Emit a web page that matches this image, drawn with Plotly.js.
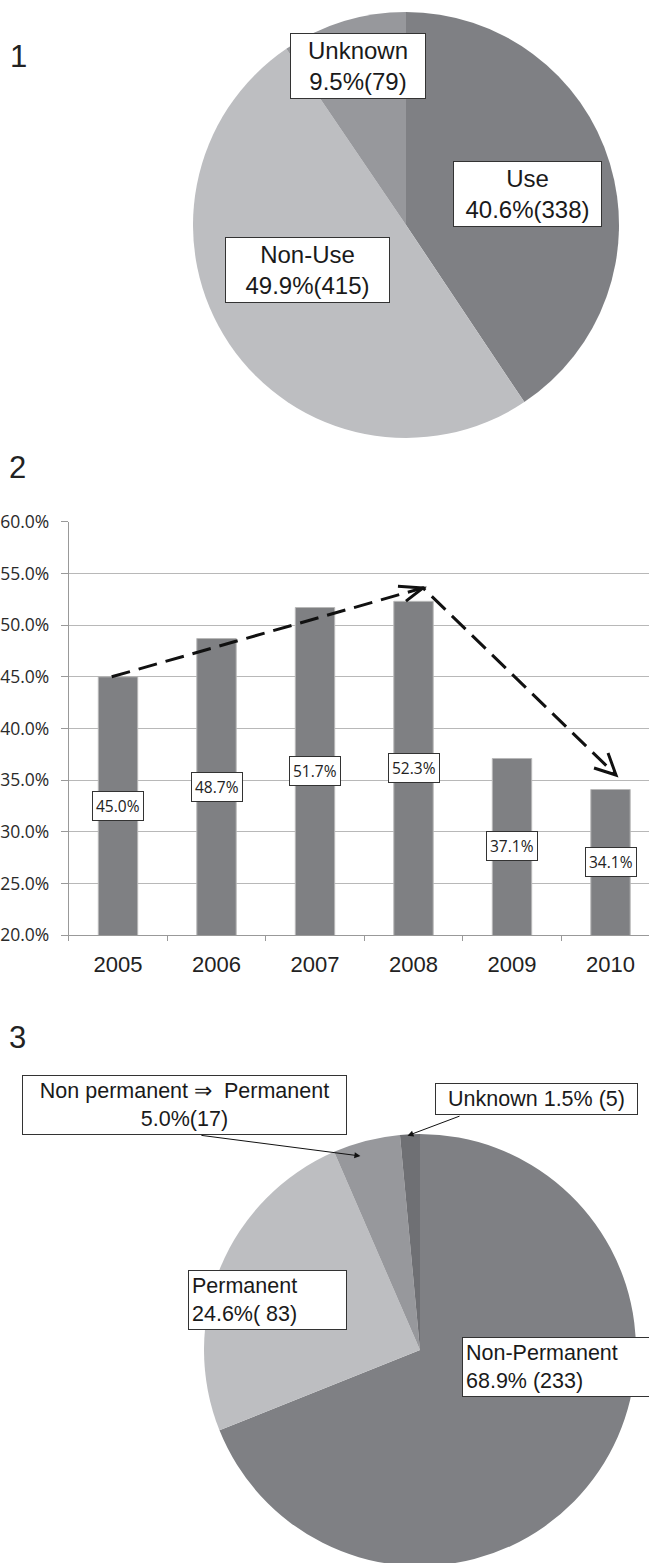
<!DOCTYPE html>
<html>
<head>
<meta charset="utf-8">
<script src="https://cdn.plot.ly/plotly-3.0.1.min.js"></script>
<style>
html,body{margin:0;padding:0;overflow:hidden;background:#fff;}
#chart{width:700px;height:1600px;}
</style>
</head>
<body>
<div id="chart"></div>
<script>
// ---------- data ----------
const pie1Labels = ['Use', 'Non-Use', 'Unknown'];
const pie1Counts = [338, 415, 79];
const pie1Pct = [40.6, 49.9, 9.5];

const years = ['2005', '2006', '2007', '2008', '2009', '2010'];
const barValues = [45.0, 48.7, 51.7, 52.3, 37.1, 34.1];

const pie3Labels = ['Non-Permanent', 'Permanent', 'Non permanent \u21D2 Permanent', 'Unknown'];
const pie3Counts = [233, 83, 17, 5];
const pie3Text = [
  'Non-Permanent<br>68.9% (233)',
  'Permanent<br>24.6%( 83)',
  'Non permanent \u21D2\u00a0\u00a0Permanent<br>5.0%(17)',
  'Unknown 1.5% (5)'
];

// trend arrows drawn over the bar chart (category index, percent)
const trendX = [-0.064, 3.096, 5.056];
const trendY = [45.0, 53.6, 35.5];

// ---------- layout helpers ----------
const W = 700, H = 1600;
const px = x => x / W;
const py = y => 1 - y / H;

const cDark = '#7f8084', cLight = '#bdbec1', cMid = '#97989c', cDarker = '#6f7074';
const labelFont = {family: 'Liberation Sans, Arial, sans-serif', color: '#1a1a1a'};

const traces = [];

traces.push({
  type: 'pie', labels: pie1Labels, values: pie1Counts, sort: false,
  direction: 'clockwise', rotation: 0, textinfo: 'none', hoverinfo: 'label+percent',
  marker: {colors: [cDark, cLight, cMid], line: {width: 0}},
  domain: {x: [px(193), px(619)], y: [py(438), py(12)]},
  showlegend: false
});

traces.push({
  type: 'bar', x: years.map((_, i) => i), y: barValues, width: 0.4,
  marker: {color: '#7f8083', line: {color: '#b8b8b8', width: 1}},
  xaxis: 'x', yaxis: 'y', hoverinfo: 'y', showlegend: false
});

traces.push({
  type: 'scatter', mode: 'lines', x: trendX, y: trendY,
  line: {color: '#111', width: 3, dash: '19px,9px'},
  xaxis: 'x', yaxis: 'y', hoverinfo: 'skip', showlegend: false
});

traces.push({
  type: 'pie', labels: pie3Labels, values: pie3Counts, sort: false,
  direction: 'clockwise', rotation: 0, textinfo: 'none', hoverinfo: 'label+percent',
  marker: {colors: [cDark, cLight, cMid, cDarker], line: {width: 0}},
  domain: {x: [px(204), px(636)], y: [py(1566), py(1134)]},
  showlegend: false
});

const annotations = [];

// figure numbers
[['1', 18, 56.5], ['2', 17, 467], ['3', 17, 1037]].forEach(([t, x, y]) => {
  annotations.push({text: t, xref: 'paper', yref: 'paper', x: px(x), y: py(y),
    xanchor: 'center', yanchor: 'middle', showarrow: false,
    font: {family: 'Liberation Sans, Arial, sans-serif', size: 31, color: '#222'}});
});

// pie 1 label boxes
const pie1Box = [
  {cx: 527.5, cy: 193.5, w: 149},
  {cx: 307.5, cy: 269.5, w: 165},
  {cx: 358, cy: 66.5, w: 136}
];
pie1Labels.forEach((l, i) => {
  const b = pie1Box[i];
  annotations.push({
    text: l + '<br>' + pie1Pct[i].toFixed(1) + '%(' + pie1Counts[i] + ')',
    xref: 'paper', yref: 'paper', x: px(b.cx), y: py(b.cy),
    xanchor: 'center', yanchor: 'middle', showarrow: false,
    width: b.w - 8, align: 'center', bgcolor: '#fff',
    bordercolor: '#333', borderwidth: 1, borderpad: 3,
    font: Object.assign({size: 24}, labelFont)
  });
});

// bar value labels
const barLabelY = [32.5, 34.3, 35.9, 36.2, 28.6, 27.1];
barValues.forEach((v, i) => {
  annotations.push({
    text: v.toFixed(1) + '%', xref: 'x', yref: 'y', x: i, y: barLabelY[i],
    xanchor: 'center', yanchor: 'middle', showarrow: false,
    bgcolor: '#fff', bordercolor: '#333', borderwidth: 1, borderpad: 3,
    font: {family: 'Open Sans, Noto Sans, sans-serif', size: 15.5, color: '#222'}
  });
});

// pie 3 label boxes
const pie3Box = [
  {cx: 557, cy: 1367, w: 190, align: 'left'},
  {cx: 267, cy: 1299.7, w: 159, align: 'left'},
  {cx: 184, cy: 1105, w: 325, align: 'center'},
  {cx: 536, cy: 1099, w: 203, align: 'center'}
];
pie3Text.forEach((t, i) => {
  const b = pie3Box[i];
  annotations.push({
    text: t, xref: 'paper', yref: 'paper', x: px(b.cx), y: py(b.cy),
    xanchor: 'center', yanchor: 'middle', showarrow: false,
    width: b.w - 8, align: b.align, bgcolor: '#fff',
    bordercolor: '#333', borderwidth: 1, borderpad: 3,
    font: Object.assign({size: 21.5}, labelFont)
  });
});

// pointer arrows for the small slices
[[360.4, 1156, -162, -21], [407.5, 1135.7, 55, -20.7]].forEach(([x, y, ax, ay]) => {
  annotations.push({text: ' ', xref: 'paper', yref: 'paper', x: px(x), y: py(y),
    ax: ax, ay: ay, showarrow: true, arrowhead: 2, arrowsize: 1.2, arrowwidth: 1,
    arrowcolor: '#111', standoff: 0, startstandoff: 0});
});

// open arrowheads for trend arrows
const shapes = [
  {type: 'path', xref: 'x', yref: 'y', xsizemode: 'pixel', ysizemode: 'pixel',
   xanchor: trendX[1], yanchor: trendY[1], path: 'M -25 1.6 L 0 0 L -17 -13.3',
   line: {color: '#111', width: 3}},
  {type: 'path', xref: 'x', yref: 'y', xsizemode: 'pixel', ysizemode: 'pixel',
   xanchor: trendX[2], yanchor: trendY[2], path: 'M -22 7 L 0 0 L -8 22',
   line: {color: '#111', width: 3}}
];

const layout = {
  width: W, height: H, margin: {l: 0, r: 0, t: 0, b: 0},
  paper_bgcolor: '#fff', plot_bgcolor: '#fff', showlegend: false,
  xaxis: {
    domain: [px(68.75), px(659.75)], range: [-0.5, 5.5],
    tickvals: years.map((_, i) => i), ticktext: years, ticks: '',
    showgrid: false, zeroline: false, showline: true, linecolor: '#999', linewidth: 1,
    tickfont: {family: 'Liberation Sans, Arial, sans-serif', size: 22, color: '#222'},
    ticklabelstandoff: 9,
    minor: {tick0: 0.5, dtick: 1, ticks: 'outside', ticklen: 5, tickcolor: '#999', showgrid: false},
    fixedrange: true
  },
  yaxis: {
    domain: [py(935.3), py(521.7)], range: [20, 60], tick0: 20, dtick: 5,
    tickformat: '.1f', ticksuffix: '%', showgrid: true, gridcolor: '#b8b8b8', gridwidth: 1,
    zeroline: false, showline: true, linecolor: '#999', linewidth: 1,
    ticks: 'outside', ticklen: 7, tickcolor: '#999',
    tickfont: {family: 'Open Sans, Noto Sans, sans-serif', size: 17.5, color: '#2a2a2a'},
    ticklabelstandoff: 8, fixedrange: true
  },
  annotations: annotations,
  shapes: shapes
};

Plotly.newPlot('chart', traces, layout, {displayModeBar: false, staticPlot: true});
</script>
</body>
</html>
